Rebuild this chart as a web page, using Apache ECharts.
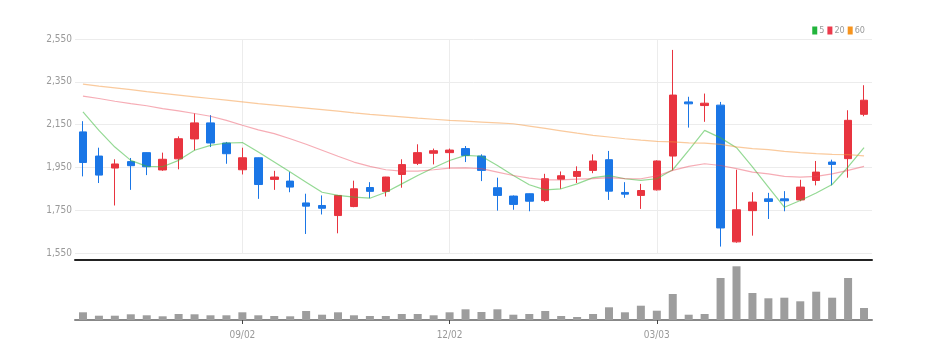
<!DOCTYPE html>
<html>
<head>
<meta charset="utf-8">
<script src="https://cdn.jsdelivr.net/npm/echarts@6/dist/echarts.min.js"></script>
<style>
html,body{margin:0;padding:0;background:#fff;}
#chart{width:925px;height:360px;}
</style>
</head>
<body>
<div id="chart"></div>
<script>
const categories = ['06/24','07/01','07/08','07/15','07/22','07/29','08/05','08/12','08/19','08/26',
  '09/02','09/09','09/16','09/23','09/30','10/07','10/14','10/21','10/28','11/04',
  '11/11','11/18','11/25','12/02','12/09','12/16','12/23','12/30','01/06','01/13',
  '01/20','01/27','02/03','02/10','02/17','02/24','03/03','03/10','03/17','03/24',
  '03/31','04/07','04/14','04/21','04/28','05/05','05/12','05/19','05/26','06/02'];
const tickLabels = ['09/02','12/02','03/03'];
// [open, close, low, high]
const ohlc = [
  [2116,1973,1908,2166],[2003,1914,1877,2042],[1947,1966,1772,1988],[1977,1958,1845,1994],[2019,1953,1914,2020],
  [1938,1988,1934,2019],[1990,2084,1941,2095],[2083,2158,2030,2202],[2158,2064,2045,2194],[2064,2014,1967,2069],
  [1939,1995,1917,2042],[1995,1870,1803,1996],[1894,1905,1845,1934],[1886,1858,1834,1928],[1784,1769,1639,1827],
  [1772,1759,1730,1819],[1725,1819,1642,1820],[1767,1850,1764,1888],[1856,1838,1806,1881],[1838,1905,1814,1906],
  [1917,1963,1855,1988],[1969,2019,1961,2058],[2016,2028,1964,2038],[2019,2031,1944,2038],[2038,2006,1975,2050],
  [2003,1936,1886,2011],[1855,1819,1748,1902],[1816,1777,1752,1819],[1827,1792,1745,1828],[1795,1897,1788,1920],
  [1895,1911,1850,1931],[1908,1931,1877,1955],[1936,1980,1923,2011],[1986,1839,1798,2027],[1833,1825,1808,1881],
  [1819,1842,1756,1873],[1845,1980,1842,1983],[2003,2288,1936,2499],[2256,2247,2136,2280],[2239,2250,2163,2295],
  [2241,1667,1580,2256],[1602,1752,1598,1939],[1748,1788,1631,1834],[1803,1791,1709,1831],[1803,1794,1745,1839],
  [1798,1858,1792,1892],[1889,1928,1866,1980],[1975,1964,1866,1986],[1991,2170,1902,2217],[2198,2264,2189,2334]
];
const ma5 = [2209,2123,2045,1983,1955,1953,1983,2030,2053,2064,2066,2022,1975,1928,1881,1834,1819,1811,1806,1834,
  1873,1912,1948,1982,2006,2002,1959,1912,1869,1845,1850,1873,1902,1912,1897,1889,1897,1939,2030,2123,
  2088,2042,1952,1858,1764,1795,1830,1870,1952,2042];
const ma20 = [2283,2272,2259,2248,2238,2225,2214,2202,2189,2170,2147,2125,2108,2084,2058,2030,2002,1975,1955,1939,
  1933,1933,1939,1947,1948,1944,1928,1912,1900,1892,1892,1895,1898,1902,1898,1897,1910,1936,1955,1967,
  1959,1944,1928,1920,1908,1905,1908,1920,1936,1955];
const ma60 = [2339,2330,2322,2313,2304,2296,2288,2280,2272,2264,2256,2248,2241,2234,2227,2220,2213,2205,2198,2192,
  2186,2180,2175,2170,2166,2162,2158,2154,2143,2132,2121,2110,2100,2092,2084,2077,2072,2069,2065,2063,
  2058,2046,2038,2033,2025,2019,2014,2011,2010,2004];
const volume = [77000,43000,43000,57000,47000,37000,60000,57000,47000,47000,77000,47000,40000,37000,90000,53000,77000,47000,40000,40000,
  60000,60000,47000,77000,107000,80000,107000,53000,60000,90000,40000,30000,60000,127000,77000,143000,93000,260000,53000,60000,
  420000,537000,270000,217000,223000,187000,283000,223000,420000,120000];
const yTicks = {min:1550, max:2550, interval:200};

const FONT = "'Liberation Sans Narrow','DejaVu Sans Condensed','Liberation Sans',sans-serif";
const showTick = (i, v) => tickLabels.indexOf(v) >= 0;

const chart = echarts.init(document.getElementById('chart'));
chart.setOption({
  animation: false,
  backgroundColor: '#fff',
  legend: {
    right: 55, top: 21,
    icon: 'rect', itemWidth: 5, itemHeight: 8, itemGap: 3,
    textStyle: {color: '#999', fontSize: 9, fontFamily: FONT, padding: [0,0,0,-3]},
    data: [
      {name: '5', itemStyle: {color: '#22b43c'}},
      {name: '20', itemStyle: {color: '#ec3a4c'}},
      {name: '60', itemStyle: {color: '#f7941d'}}
    ]
  },
  grid: [
    {left: 75, right: 53, top: 39, height: 214},
    {left: 75, right: 53, top: 265, height: 55}
  ],
  xAxis: [
    {
      type: 'category', gridIndex: 0, data: categories, boundaryGap: true, offset: 7,
      axisLine: {show: true, lineStyle: {color: '#222', width: 2}},
      axisTick: {show: false}, axisLabel: {show: false},
      splitLine: {show: false}
    },
    {
      type: 'category', gridIndex: 1, data: categories, boundaryGap: true,
      axisLine: {show: true, lineStyle: {color: '#888', width: 2}},
      axisTick: {show: true, interval: showTick, alignWithLabel: true, length: 4, lineStyle: {color: '#444'}},
      axisLabel: {show: true, interval: showTick, color: '#999', fontSize: 10, fontFamily: FONT, margin: 10},
      splitLine: {show: false}
    }
  ],
  yAxis: [
    {
      type: 'value', gridIndex: 0, min: yTicks.min, max: yTicks.max, interval: yTicks.interval,
      axisLine: {show: false}, axisTick: {show: false},
      axisLabel: {color: '#999', fontSize: 10, fontFamily: FONT, margin: 3,
        formatter: v => v.toLocaleString('en-US')},
      splitLine: {show: true, lineStyle: {color: '#ececec', width: 1}}
    },
    {
      type: 'value', gridIndex: 1, min: 0, max: 550000,
      show: false, splitLine: {show: false}
    }
  ],
  series: [
    {
      name: 'K', type: 'candlestick', xAxisIndex: 0, yAxisIndex: 0, data: ohlc, barWidth: 8,
      itemStyle: {color: '#e8343f', color0: '#1a76e6', borderColor: '#e8343f', borderColor0: '#1a76e6', borderWidth: 1},
      markLine: {
        silent: true, symbol: ['none','none'], label: {show: false},
        lineStyle: {color: '#ececec', width: 1, type: 'solid'},
        z: 0,
        data: tickLabels.map(t => ({xAxis: t}))
      }
    },
    {
      name: '5', type: 'line', xAxisIndex: 0, yAxisIndex: 0, data: ma5, symbol: 'none', smooth: false,
      itemStyle: {color: '#22b43c'}, lineStyle: {color: 'rgba(60,185,60,0.55)', width: 1.2}
    },
    {
      name: '20', type: 'line', xAxisIndex: 0, yAxisIndex: 0, data: ma20, symbol: 'none', smooth: false,
      itemStyle: {color: '#ec3a4c'}, lineStyle: {color: 'rgba(236,70,90,0.45)', width: 1.2}
    },
    {
      name: '60', type: 'line', xAxisIndex: 0, yAxisIndex: 0, data: ma60, symbol: 'none', smooth: false,
      itemStyle: {color: '#f7941d'}, lineStyle: {color: 'rgba(245,150,60,0.5)', width: 1.2}
    },
    {
      name: 'Volume', type: 'bar', xAxisIndex: 1, yAxisIndex: 1, data: volume, barWidth: 8,
      itemStyle: {color: '#9d9d9d'}
    }
  ]
});
</script>
</body>
</html>
